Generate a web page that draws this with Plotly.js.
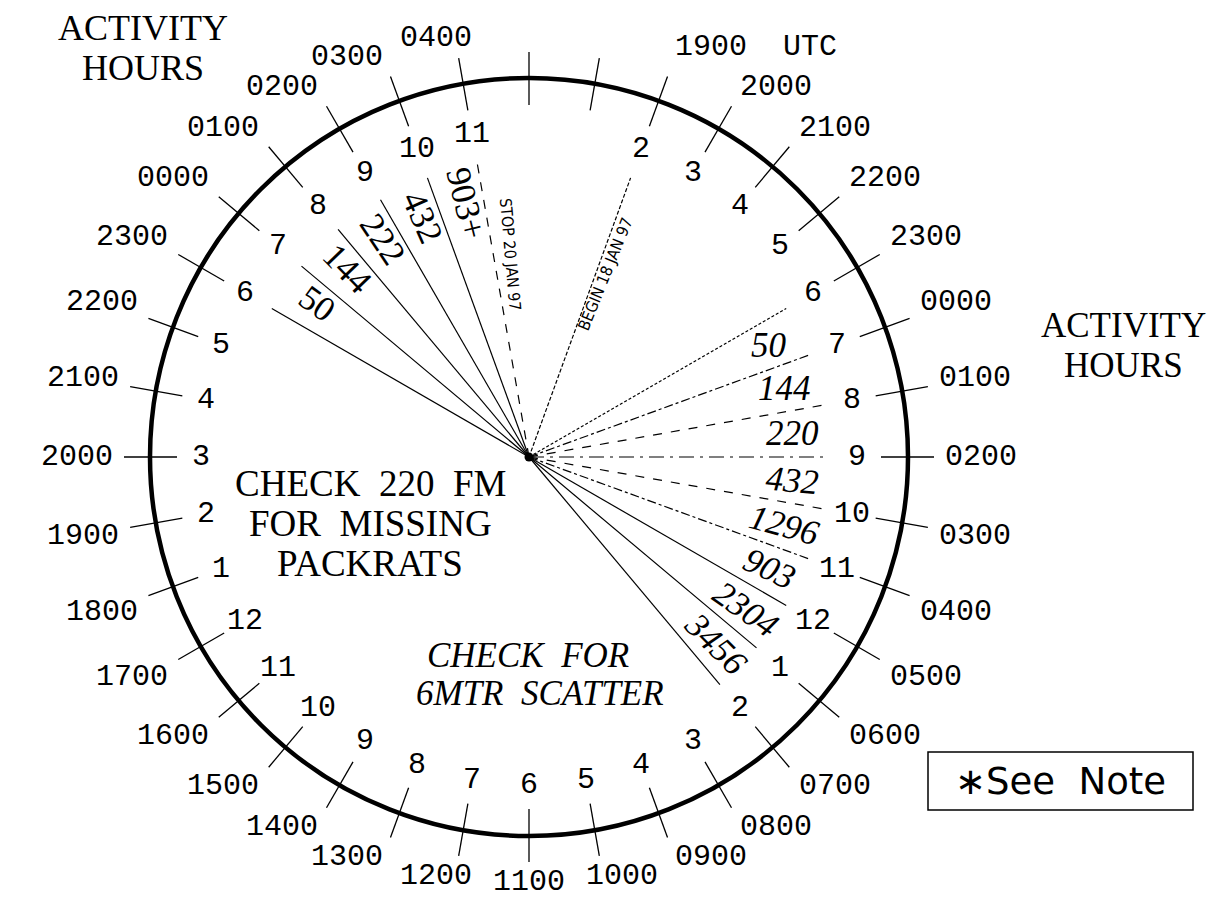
<!DOCTYPE html>
<html>
<head>
<meta charset="utf-8">
<script src="https://cdn.plot.ly/plotly-3.0.1.min.js"></script>
<style>html,body{margin:0;padding:0;background:#fff;}#chart{width:1227px;height:919px;}</style>
</head>
<body>
<div id="chart"></div>
<script>
// ---------------- data ----------------
const hourAngles = [20,30,40,50,60,70,80,90,100,110,120,130,140,150,160,170,180,190,200,210,220,230,240,250,260,270,280,290,300,310,320,330,340,350];
const utcLabels = ['1900 UTC','2000','2100','2200','2300','0000','0100','0200','0300','0400','0500','0600','0700','0800','0900','1000','1100','1200','1300','1400','1500','1600','1700','1800','1900','2000','2100','2200','2300','0000','0100','0200','0300','0400'];
const localLabels = ['2','3','4','5','6','7','8','9','10','11','12','1','2','3','4','5','6','7','8','9','10','11','12','1','2','3','4','5','6','7','8','9','10','11'];
const extraTickAngles = [0,10];
const leftRayAngles = [300,310,320,330,340,350];
const leftBands = ['50','144','222','432','903+'];
const rightRayAngles = [60,70,80,90,100,110,120,130,140];
const rightBands = ['50','144','220','432','1296','903','2304','3456'];
const beginAngle = 20, stopAngle = 350;
const beginText = 'BEGIN 18 JAN 97', stopText = 'STOP 20 JAN 97';
const packratLines = ['CHECK 220 FM','FOR MISSING','PACKRATS'];
const scatterLines = ['CHECK FOR','6MTR SCATTER'];
const sideTitle = ['ACTIVITY','HOURS'];
const noteText = '\u2217See Note';

// ---------------- geometry / styles ----------------
const W = 1227, H = 919, CX = 529, CY = 457, R = 379;
const RAY_R = 297, TICK_IN = 352, TICK_OUT = 405, INNER_R = 328, OUTER_R = 410, BAND_R = 265;
const rightDash = ['3px,2px','dashdot','dash','longdashdot','dash','dashdot','solid','solid','solid'];
const monoFont = 'Liberation Mono, DejaVu Sans Mono, monospace';
const serifFont = 'Liberation Serif, DejaVu Serif, serif';
const nb = s => s.replace(/ /g, '\u00a0\u00a0');

function pt(deg, r) {
  const a = deg * Math.PI / 180;
  return [CX + r * Math.sin(a), CY - r * Math.cos(a)];
}
const clamp = (v, lo, hi) => Math.max(lo, Math.min(hi, v));

const traces = [];
const annotations = [];

// ticks
const tx = [], ty = [];
extraTickAngles.concat(hourAngles).forEach(a => {
  const p0 = pt(a, TICK_IN), p1 = pt(a, TICK_OUT);
  tx.push(p0[0], p1[0], null); ty.push(p0[1], p1[1], null);
});
traces.push({x: tx, y: ty, mode: 'lines', line: {color: '#000', width: 1.3}, hoverinfo: 'skip'});

// rays
function ray(a, dash, width) {
  const p = pt(a, RAY_R);
  traces.push({x: [CX, p[0]], y: [CY, p[1]], mode: 'lines', line: {color: '#000', width: width || 1.2, dash: dash}, hoverinfo: 'skip'});
}
leftRayAngles.forEach(a => ray(a, a === stopAngle ? 'dash' : 'solid'));
rightRayAngles.forEach((a, i) => ray(a, rightDash[i]));
ray(beginAngle, '4px,2px');

// center dot
traces.push({x: [CX], y: [CY], mode: 'markers', marker: {color: '#000', size: 9}, hoverinfo: 'skip'});

// outer UTC labels and inner local-hour labels
hourAngles.forEach((a, i) => {
  const rad = a * Math.PI / 180;
  const p = pt(a, OUTER_R);
  const txt = utcLabels[i].replace(/ /g, '\u00a0\u00a0');
  const w = txt.length * 18;
  const s = clamp(Math.sin(rad) * 3, -1, 1);
  const c = clamp(Math.cos(rad) * 3, -1, 1);
  const extraUp = txt.length > 4 ? 10 : 0;
  annotations.push({x: p[0] + s * (w / 2 + 6), y: p[1] - c * 15 - extraUp, text: txt,
    showarrow: false, xanchor: 'center', yanchor: 'middle', font: {family: monoFont, size: 30, color: '#000'}});
  const q = pt(a, INNER_R);
  annotations.push({x: q[0], y: q[1], text: localLabels[i], showarrow: false, xanchor: 'center', yanchor: 'middle',
    font: {family: monoFont, size: 30, color: '#000'}});
});

// band labels, left (upright serif, reading toward centre)
leftBands.forEach((t, i) => {
  const mid = (leftRayAngles[i] + leftRayAngles[i + 1]) / 2 + 1;
  const p = pt(mid, BAND_R - 3);
  annotations.push({x: p[0], y: p[1], text: t, showarrow: false, textangle: mid - 270,
    xanchor: 'center', yanchor: 'middle', font: {family: serifFont, size: 35, color: '#000'}});
});
// band labels, right (italic serif)
rightBands.forEach((t, i) => {
  const mid = (rightRayAngles[i] + rightRayAngles[i + 1]) / 2;
  const p = pt(mid, BAND_R);
  annotations.push({x: p[0], y: p[1], text: '<i>' + t + '</i>', showarrow: false, textangle: Math.max(0, mid - 90),
    xanchor: 'center', yanchor: 'middle', font: {family: serifFont, size: 35, color: '#000'}});
});

// begin / stop texts along rays
(function () {
  const pb = pt(beginAngle + 2.5, 198);
  annotations.push({x: pb[0], y: pb[1], text: beginText, showarrow: false, textangle: (beginAngle + 2) - 90,
    xanchor: 'center', yanchor: 'middle', font: {family: 'DejaVu Sans Condensed, DejaVu Sans, sans-serif', size: 16, color: '#000'}});
  const ps = pt(stopAngle + 4.6, 203);
  annotations.push({x: ps[0], y: ps[1], text: stopText, showarrow: false, textangle: (stopAngle + 5) - 270,
    xanchor: 'center', yanchor: 'middle', font: {family: 'DejaVu Sans Condensed, DejaVu Sans, sans-serif', size: 16, color: '#000'}});
})();

// centre notes
packratLines.forEach((t, i) => {
  annotations.push({x: 370, y: 483 + i * 40, text: nb(t), showarrow: false, xanchor: 'center', yanchor: 'middle',
    font: {family: serifFont, size: 37, color: '#000'}});
});
scatterLines.forEach((t, i) => {
  annotations.push({x: 528 + i * 12, y: 655 + i * 38, text: '<i>' + nb(t) + '</i>', showarrow: false, xanchor: 'center', yanchor: 'middle',
    font: {family: serifFont, size: 35, color: '#000'}});
});

// ACTIVITY HOURS titles
sideTitle.forEach((t, i) => {
  annotations.push({x: 143, y: 28 + i * 40, text: t, showarrow: false, xanchor: 'center', yanchor: 'middle',
    font: {family: serifFont, size: 36, color: '#000'}});
  annotations.push({x: 1123, y: 325 + i * 40, text: t, showarrow: false, xanchor: 'center', yanchor: 'middle',
    font: {family: serifFont, size: 35, color: '#000'}});
});

// See Note box
annotations.push({x: 1060, y: 781, text: noteText.replace(' ', '\u00a0\u00a0'), showarrow: false, xanchor: 'center', yanchor: 'middle',
  font: {family: 'DejaVu Sans, sans-serif', size: 37, color: '#000'}});

const shapes = [
  {type: 'circle', xref: 'x', yref: 'y', x0: CX - R, x1: CX + R, y0: CY - R, y1: CY + R, line: {color: '#000', width: 4.5}},
  {type: 'rect', xref: 'x', yref: 'y', x0: 928, x1: 1193, y0: 752, y1: 810, line: {color: '#000', width: 1.5}}
];

const layout = {
  width: W, height: H,
  margin: {l: 0, r: 0, t: 0, b: 0},
  paper_bgcolor: '#fff', plot_bgcolor: '#fff',
  showlegend: false,
  xaxis: {range: [0, W], visible: false, fixedrange: true},
  yaxis: {range: [H, 0], visible: false, fixedrange: true},
  shapes: shapes,
  annotations: annotations
};
Plotly.newPlot('chart', traces, layout, {staticPlot: true, displayModeBar: false});
</script>
</body>
</html>
